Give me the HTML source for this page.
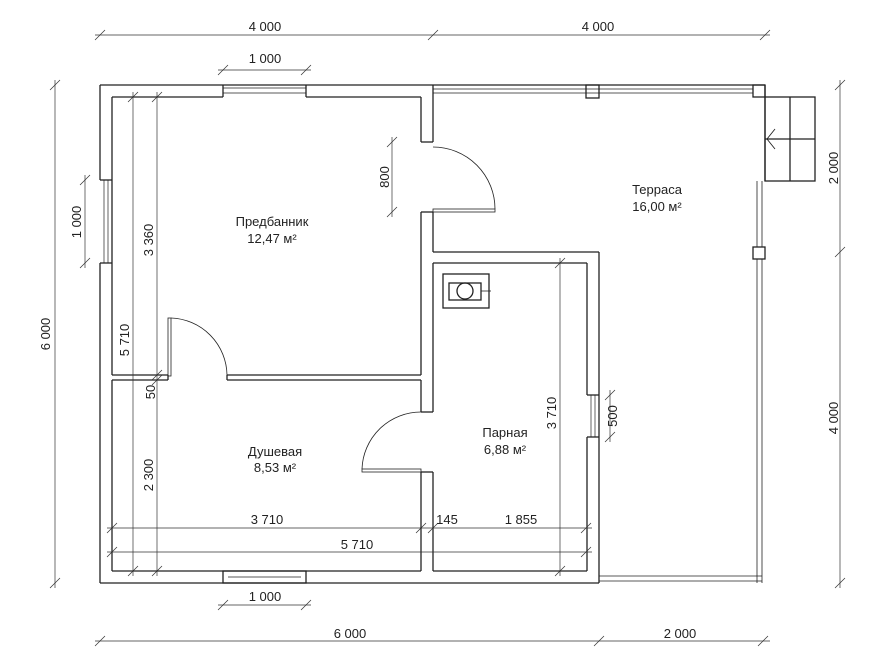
<!DOCTYPE html>
<html><head><meta charset="utf-8"><style>
html,body{margin:0;padding:0;background:#fff}
svg{display:block}
text{font-family:"Liberation Sans",sans-serif;font-size:13px;fill:#222}
</style></head><body>
<svg width="890" height="665" viewBox="0 0 890 665" xmlns="http://www.w3.org/2000/svg">
<g stroke="#222" stroke-width="1.3" fill="none">
<line x1="100" y1="85" x2="433" y2="85"/>
<line x1="112" y1="97" x2="223" y2="97"/>
<line x1="306" y1="97" x2="421" y2="97"/>
<line x1="223" y1="85" x2="223" y2="97"/><line x1="306" y1="85" x2="306" y2="97"/>
<line x1="223" y1="88" x2="306" y2="88" stroke-width="0.7"/><line x1="223" y1="93" x2="306" y2="93" stroke-width="0.7"/>
<line x1="100" y1="85" x2="100" y2="180"/><line x1="100" y1="263" x2="100" y2="583"/>
<line x1="100" y1="180" x2="112" y2="180"/><line x1="100" y1="263" x2="112" y2="263"/>
<line x1="104" y1="180" x2="104" y2="263" stroke-width="0.7"/><line x1="108" y1="180" x2="108" y2="263" stroke-width="0.7"/>
<line x1="112" y1="97" x2="112" y2="375"/><line x1="112" y1="380" x2="112" y2="571"/>
<line x1="100" y1="583" x2="599" y2="583"/>
<line x1="112" y1="571" x2="421" y2="571"/>
<line x1="433" y1="571" x2="587" y2="571"/>
<rect x="223" y="571" width="83" height="12"/>
<line x1="228" y1="577" x2="301" y2="577" stroke-width="0.7"/>
<line x1="421" y1="97" x2="421" y2="142"/><line x1="433" y1="85" x2="433" y2="142"/>
<line x1="421" y1="142" x2="433" y2="142"/>
<line x1="421" y1="212" x2="433" y2="212"/>
<line x1="421" y1="212" x2="421" y2="375"/><line x1="433" y1="212" x2="433" y2="252"/>
<line x1="421" y1="380" x2="421" y2="412"/><line x1="421" y1="472" x2="421" y2="571"/>
<line x1="433" y1="263" x2="433" y2="412"/><line x1="433" y1="472" x2="433" y2="571"/>
<line x1="421" y1="412" x2="433" y2="412"/><line x1="421" y1="472" x2="433" y2="472"/>
<line x1="112" y1="375" x2="168" y2="375"/><line x1="227" y1="375" x2="421" y2="375"/>
<line x1="112" y1="380" x2="168" y2="380"/><line x1="227" y1="380" x2="421" y2="380"/>
<line x1="168" y1="375" x2="168" y2="380"/><line x1="227" y1="375" x2="227" y2="380"/>
<line x1="433" y1="252" x2="599" y2="252"/>
<line x1="433" y1="263" x2="587" y2="263"/>
<line x1="599" y1="252" x2="599" y2="583"/>
<line x1="587" y1="263" x2="587" y2="395"/><line x1="587" y1="437" x2="587" y2="571"/>
<line x1="587" y1="395" x2="599" y2="395"/><line x1="587" y1="437" x2="599" y2="437"/>
<line x1="591" y1="395" x2="591" y2="437" stroke-width="0.7"/><line x1="595" y1="395" x2="595" y2="437" stroke-width="0.7"/>
<rect x="443" y="274" width="46" height="34"/>
<rect x="449" y="283" width="32" height="17"/>
<circle cx="465" cy="291" r="8"/>
<line x1="481" y1="291" x2="491" y2="291" stroke-width="0.8"/>
<rect x="433" y="209" width="62" height="3" stroke-width="0.8"/>
<path d="M495,209 A62,62 0 0 0 433,147" stroke-width="0.8"/>
<rect x="362" y="469" width="59" height="3" stroke-width="0.8"/>
<path d="M362,469 A59,59 0 0 1 421,412" stroke-width="0.8"/>
<rect x="168" y="318" width="3" height="58" stroke-width="0.8"/>
<path d="M171,318 A58,58 0 0 1 227,375" stroke-width="0.8"/>
<line x1="433" y1="85" x2="765" y2="85"/>
<line x1="433" y1="89" x2="753" y2="89" stroke-width="0.7"/>
<line x1="433" y1="93" x2="753" y2="93" stroke-width="0.7"/>
<rect x="586" y="85" width="13" height="13"/>
<rect x="753" y="85" width="12" height="12"/>
<line x1="765" y1="85" x2="765" y2="181"/>
<line x1="757" y1="181" x2="757" y2="583" stroke-width="0.8"/>
<line x1="762" y1="181" x2="762" y2="583" stroke-width="0.8"/>
<rect x="753" y="247" width="12" height="12" fill="#fff"/>
<line x1="599" y1="576" x2="762" y2="576" stroke-width="0.8"/>
<line x1="599" y1="581" x2="762" y2="581" stroke-width="0.8"/>
<rect x="765" y="97" width="50" height="84"/>
<line x1="790" y1="97" x2="790" y2="181"/>
<line x1="765" y1="139" x2="815" y2="139"/>
<path d="M775,129 L767,139 L775,149" stroke-width="0.9"/>
</g>
<g stroke="#333" stroke-width="0.7" fill="none">
<line x1="95" y1="35" x2="770" y2="35"/>
<line x1="95" y1="40" x2="105" y2="30"/><line x1="428" y1="40" x2="438" y2="30"/><line x1="760" y1="40" x2="770" y2="30"/>
<line x1="218" y1="70" x2="311" y2="70"/>
<line x1="218" y1="75" x2="228" y2="65"/><line x1="301" y1="75" x2="311" y2="65"/>
<line x1="95" y1="641" x2="770" y2="641"/>
<line x1="95" y1="646" x2="105" y2="636"/><line x1="594" y1="646" x2="604" y2="636"/><line x1="758" y1="646" x2="768" y2="636"/>
<line x1="218" y1="605" x2="311" y2="605"/>
<line x1="218" y1="610" x2="228" y2="600"/><line x1="301" y1="610" x2="311" y2="600"/>
<line x1="55" y1="80" x2="55" y2="588"/>
<line x1="50" y1="90" x2="60" y2="80"/><line x1="50" y1="588" x2="60" y2="578"/>
<line x1="85" y1="175" x2="85" y2="268"/>
<line x1="80" y1="185" x2="90" y2="175"/><line x1="80" y1="268" x2="90" y2="258"/>
<line x1="840" y1="80" x2="840" y2="588"/>
<line x1="835" y1="90" x2="845" y2="80"/><line x1="835" y1="257" x2="845" y2="247"/><line x1="835" y1="588" x2="845" y2="578"/>
<line x1="392" y1="137" x2="392" y2="217"/>
<line x1="387" y1="147" x2="397" y2="137"/><line x1="387" y1="217" x2="397" y2="207"/>
<line x1="133" y1="92" x2="133" y2="576"/>
<line x1="157" y1="92" x2="157" y2="576"/>
<line x1="128" y1="102" x2="138" y2="92"/><line x1="152" y1="102" x2="162" y2="92"/>
<line x1="152" y1="380" x2="162" y2="370"/><line x1="152" y1="385" x2="162" y2="375"/>
<line x1="128" y1="576" x2="138" y2="566"/><line x1="152" y1="576" x2="162" y2="566"/>
<line x1="107" y1="528" x2="592" y2="528"/>
<line x1="107" y1="533" x2="117" y2="523"/><line x1="416" y1="533" x2="426" y2="523"/><line x1="428" y1="533" x2="438" y2="523"/><line x1="581" y1="533" x2="591" y2="523"/>
<line x1="107" y1="552" x2="592" y2="552"/>
<line x1="107" y1="557" x2="117" y2="547"/><line x1="581" y1="557" x2="591" y2="547"/>
<line x1="560" y1="258" x2="560" y2="576"/>
<line x1="555" y1="268" x2="565" y2="258"/><line x1="555" y1="576" x2="565" y2="566"/>
<line x1="610" y1="390" x2="610" y2="442"/>
<line x1="605" y1="400" x2="615" y2="390"/><line x1="605" y1="442" x2="615" y2="432"/>
</g>
<g text-anchor="middle">
<text x="265" y="31">4 000</text>
<text x="598" y="31">4 000</text>
<text x="265" y="63">1 000</text>
<text x="265" y="601">1 000</text>
<text x="350" y="638">6 000</text>
<text x="680" y="638">2 000</text>
<text x="267" y="524">3 710</text>
<text x="447" y="524">145</text>
<text x="521" y="524">1 855</text>
<text x="357" y="549">5 710</text>
<text transform="translate(50,334) rotate(-90)">6 000</text>
<text transform="translate(81,222) rotate(-90)">1 000</text>
<text transform="translate(153,240) rotate(-90)">3 360</text>
<text transform="translate(129,340) rotate(-90)">5 710</text>
<text transform="translate(155,392) rotate(-90)">50</text>
<text transform="translate(153,475) rotate(-90)">2 300</text>
<text transform="translate(389,177) rotate(-90)">800</text>
<text transform="translate(556,413) rotate(-90)">3 710</text>
<text transform="translate(617,416) rotate(-90)">500</text>
<text transform="translate(838,168) rotate(-90)">2 000</text>
<text transform="translate(838,418) rotate(-90)">4 000</text>
<text x="272" y="226">Предбанник</text>
<text x="272" y="243">12,47 м²</text>
<text x="657" y="194">Терраса</text>
<text x="657" y="211">16,00 м²</text>
<text x="275" y="456">Душевая</text>
<text x="275" y="472">8,53 м²</text>
<text x="505" y="437">Парная</text>
<text x="505" y="454">6,88 м²</text>
</g>
</svg>
</body></html>
